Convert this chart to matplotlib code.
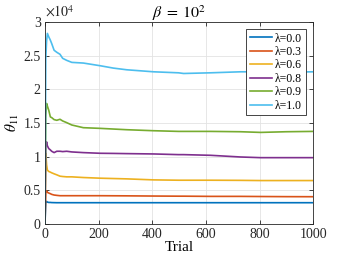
import numpy as np
import matplotlib
matplotlib.use("Agg")
from matplotlib import pyplot as plt
from matplotlib.ticker import FormatStrFormatter

plt.rcParams['font.family'] = ['Liberation Serif', 'DejaVu Serif']
plt.rcParams['mathtext.fontset'] = 'stix'

trials = [0, 3, 6, 9, 14, 20, 25, 34, 44, 56, 66, 81, 100, 143, 206, 255, 305, 405, 498, 517, 617, 729, 804, 900, 1000]

# theta_11 values in units of 1e4
lam00 = [0, 0.33, 0.335, 0.325, 0.32, 0.32, 0.318, 0.317, 0.316, 0.316, 0.316, 0.316, 0.316, 0.316, 0.316, 0.316, 0.316, 0.316, 0.316, 0.316, 0.316, 0.316, 0.316, 0.316, 0.316]
lam03 = [0, 0.46, 0.49, 0.47, 0.46, 0.45, 0.44, 0.43, 0.425, 0.42, 0.42, 0.42, 0.42, 0.42, 0.42, 0.419, 0.418, 0.415, 0.413, 0.413, 0.41, 0.41, 0.408, 0.406, 0.405]
lam06 = [0, 1.05, 0.88, 0.80, 0.78, 0.77, 0.76, 0.745, 0.73, 0.71, 0.705, 0.70, 0.70, 0.69, 0.68, 0.675, 0.67, 0.655, 0.65, 0.65, 0.65, 0.648, 0.645, 0.645, 0.645]
lam08 = [0, 1.15, 1.22, 1.16, 1.12, 1.10, 1.08, 1.06, 1.08, 1.08, 1.075, 1.08, 1.07, 1.06, 1.05, 1.048, 1.045, 1.04, 1.03, 1.03, 1.02, 0.995, 0.985, 0.985, 0.985]
lam09 = [0, 1.60, 1.79, 1.75, 1.69, 1.59, 1.58, 1.55, 1.54, 1.555, 1.53, 1.505, 1.47, 1.43, 1.42, 1.41, 1.40, 1.385, 1.375, 1.375, 1.375, 1.37, 1.36, 1.37, 1.375]
lam10 = [0, 2.45, 2.72, 2.83, 2.78, 2.73, 2.68, 2.58, 2.55, 2.52, 2.46, 2.43, 2.40, 2.39, 2.35, 2.315, 2.29, 2.26, 2.245, 2.235, 2.245, 2.26, 2.26, 2.255, 2.26]

series = [lam00, lam03, lam06, lam08, lam09, lam10]
labels = ["λ=0.0", "λ=0.3", "λ=0.6", "λ=0.8", "λ=0.9", "λ=1.0"]
colors = ["#0072BD", "#D95319", "#EDB120", "#7E2F8E", "#77AC30", "#4DBEEE"]

fig = plt.figure(figsize=(3.46, 2.6), dpi=100)
ax = fig.add_axes([0.130, 0.1385, 0.775, 0.777])

for vals, lab, c in zip(series, labels, colors):
    ax.plot(trials, vals, color=c, lw=1.2, label=lab)

ax.set_xlim(0, 1000)
ax.set_ylim(0, 3)
ax.set_xticks([0, 200, 400, 600, 800, 1000])
ax.set_yticks([0, 0.5, 1, 1.5, 2, 2.5, 3])
ax.yaxis.set_major_formatter(FormatStrFormatter('%g'))
ax.grid(True, color='#e3e3e3', lw=0.6)
ax.set_axisbelow(True)
ax.tick_params(direction='in', length=3, width=0.6, top=True, right=True,
               labelsize=10, colors='#262626', pad=3)
for s in ax.spines.values():
    s.set_color('#262626')
    s.set_linewidth(0.6)

ax.set_xlabel("Trial", fontsize=11, labelpad=0)
ax.set_ylabel(r"$\theta_{11}$", fontsize=11, labelpad=2)
ax.set_title(r"$\beta\;=\;10^2$", fontsize=11.5, pad=3)
ax.text(0, 1.01, r"$\times 10^4$", transform=ax.transAxes, fontsize=10,
        ha='left', va='bottom', color='#262626')

leg = ax.legend(loc='upper right', fontsize=8.5, handlelength=1.9,
                labelspacing=0.12, borderpad=0.3, handletextpad=0.25,
                borderaxespad=0, fancybox=False, framealpha=1,
                edgecolor='#262626', bbox_to_anchor=(0.973, 0.965))
leg.get_frame().set_linewidth(0.6)

fig.savefig("out.png", dpi=100)
